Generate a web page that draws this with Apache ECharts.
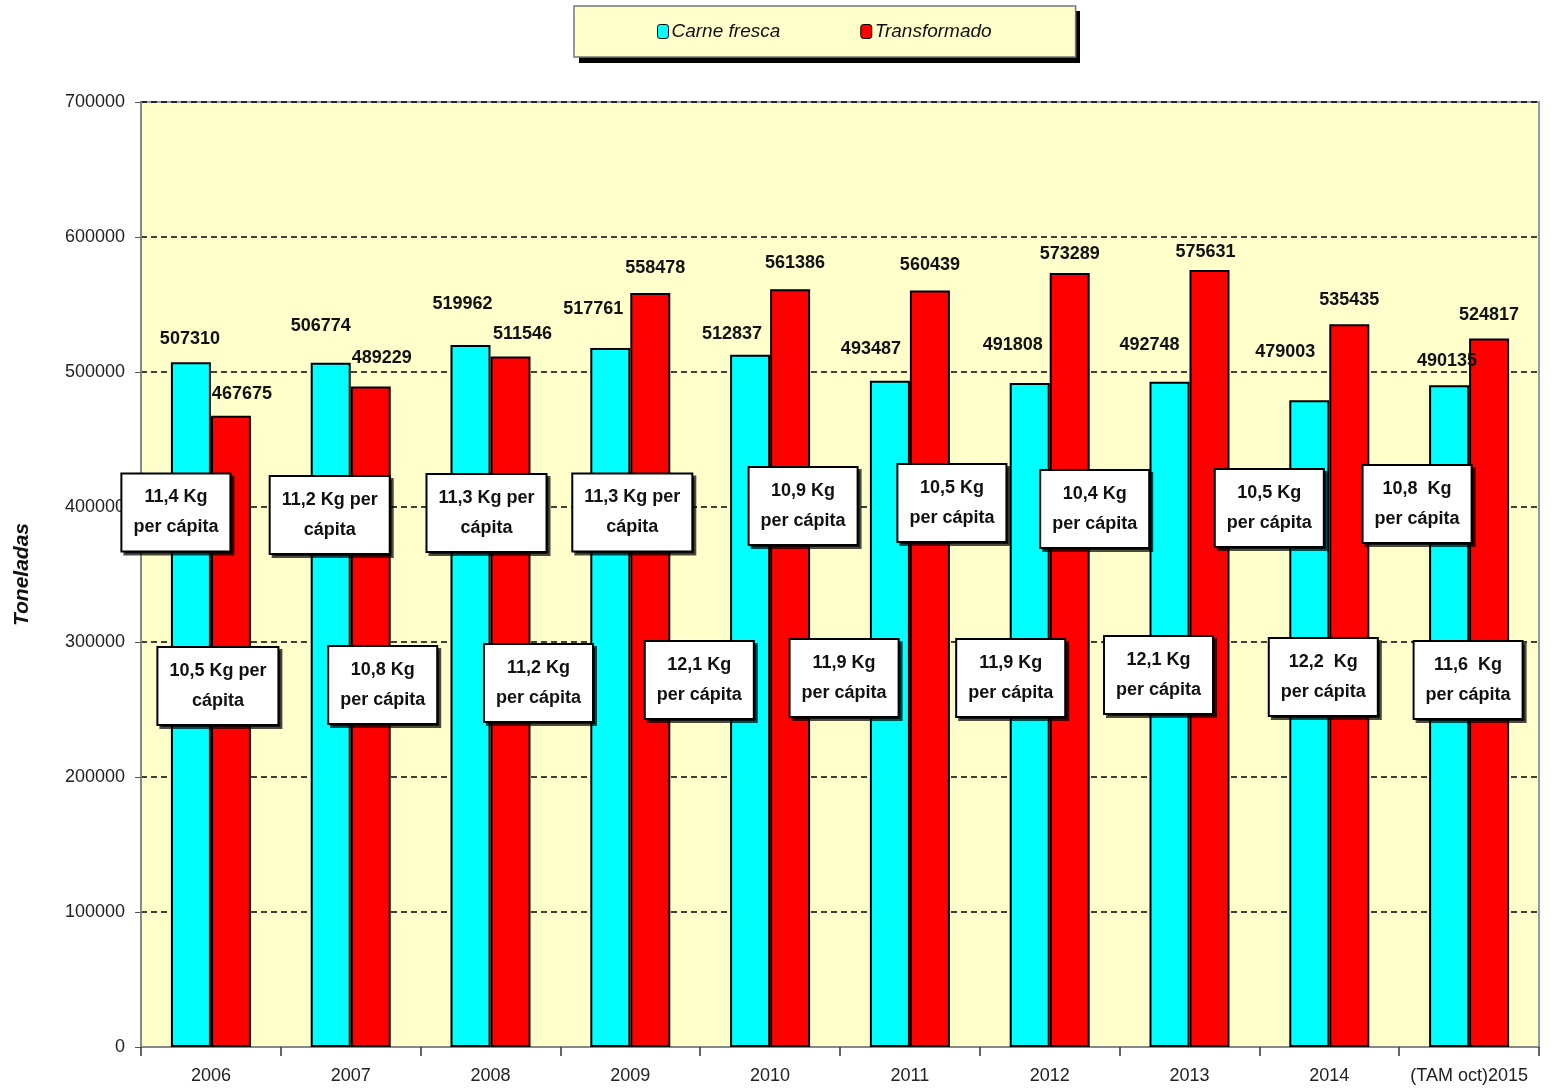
<!DOCTYPE html>
<html>
<head>
<meta charset="utf-8">
<title>Carne fresca / Transformado</title>
<script src="https://cdn.jsdelivr.net/npm/echarts@6/dist/echarts.min.js"></script>
<style>
  html, body { margin: 0; padding: 0; background: #fff; }
  #chart { width: 1554px; height: 1090px; }
</style>
</head>
<body>
<div id="chart"></div>
<script>
// data
const years = ["2006", "2007", "2008", "2009", "2010", "2011", "2012", "2013", "2014", "(TAM oct)2015"];
const carneFresca = [507310, 506774, 519962, 517761, 512837, 493487, 491808, 492748, 479003, 490135];
const transformado = [467675, 489229, 511546, 558478, 561386, 560439, 573289, 575631, 535435, 524817];
const upperBoxes = ["11,4 Kg\nper cápita", "11,2 Kg per\ncápita", "11,3 Kg per\ncápita", "11,3 Kg per\ncápita",
  "10,9 Kg\nper cápita", "10,5 Kg\nper cápita", "10,4 Kg\nper cápita", "10,5 Kg\nper cápita", "10,8  Kg\nper cápita"];
const lowerBoxes = ["10,5 Kg per\ncápita", "10,8 Kg\nper cápita", "11,2 Kg\nper cápita", "12,1 Kg\nper cápita",
  "11,9 Kg\nper cápita", "11,9 Kg\nper cápita", "12,1 Kg\nper cápita", "12,2  Kg\nper cápita", "11,6  Kg\nper cápita"];
const yTicks = [0, 100000, 200000, 300000, 400000, 500000, 600000, 700000];

// layout of the annotation boxes: [category index, x shift px, y in tonnes]
const upperPos = [[0, -15, 396000], [1, -1, 394000], [2, 16, 395500], [3, 22, 396000], [4, 53, 400700],
  [5, 62, 403000], [6, 65, 398500], [8, -40, 399300], [9, -32, 402200]];
const lowerPos = [[0, 27, 267400], [1, 52, 268100], [2, 68, 269600], [3, 89, 271800], [4, 94, 273300],
  [6, -19, 273300], [7, -11, 275500], [8, 14, 274000], [9, 19, 271800]];
// value label shifts [dx, dy]
const cyanShift = [[-1, -14], [-10, -28], [-8, -32], [-17, -30], [-18, -12], [-19, -23], [-17, -29], [-20, -28], [-24, -39], [-2, -15]];
const redShift = [[11, -13], [11, -20], [12, -13], [5, -16], [5, -17], [0, -16], [0, -10], [-4, -9], [0, -15], [0, -14]];

const FONT = "'Liberation Sans', Arial, sans-serif";

const boxLabel = {
  show: true,
  position: "inside",
  color: "#111",
  fontFamily: FONT,
  fontWeight: "bold",
  fontSize: 18,
  lineHeight: 30,
  align: "center",
  backgroundColor: "#fff",
  borderColor: "#000",
  borderWidth: 2,
  padding: [8, 11, 8, 11],
  shadowColor: "rgba(0,0,0,0.7)",
  shadowOffsetX: 3,
  shadowOffsetY: 3,
  shadowBlur: 0,
};

function boxes(texts, pos) {
  return texts.map((t, i) => ({
    coord: [years[pos[i][0]], pos[i][2]],
    value: t,
    label: Object.assign({}, boxLabel, { formatter: t, offset: [pos[i][1], 0] }),
  }));
}

function barData(values, shifts) {
  return values.map((v, i) => ({
    value: v,
    label: { offset: shifts[i] },
  }));
}

const valueLabel = {
  show: true,
  position: "top",
  distance: 0,
  color: "#111",
  fontFamily: FONT,
  fontWeight: "bold",
  fontSize: 18,
  formatter: "{c}",
};

const chart = echarts.init(document.getElementById("chart"));
chart.setOption({
  animation: false,
  // black drop shadow behind the legend frame
  graphic: [{
    type: "rect",
    z: -1,
    shape: { x: 579, y: 11, width: 501, height: 52 },
    style: { fill: "#000" },
    silent: true,
  }],
  legend: {
    left: 574,
    top: 6,
    padding: [16, 84, 16, 83],
    itemGap: 80,
    itemWidth: 11,
    itemHeight: 14,
    itemStyle: { borderColor: "#000", borderWidth: 1 },
    backgroundColor: "#FFFFCC",
    borderColor: "#777",
    borderWidth: 1.5,
    textStyle: { fontFamily: FONT, fontStyle: "italic", fontSize: 19, color: "#111", padding: [0, 0, 0, -2] },
    data: ["Carne fresca", "Transformado"],
  },
  grid: {
    left: 141,
    right: 15,
    top: 102,
    bottom: 43,
    outerBoundsMode: "none",
    show: true,
    backgroundColor: "#FFFFCC",
    borderColor: "#999",
    borderWidth: 2,
  },
  xAxis: {
    type: "category",
    data: years,
    axisLine: { lineStyle: { color: "#888", width: 2 } },
    axisTick: { show: true, length: 9, lineStyle: { color: "#333", width: 1.5 } },
    axisLabel: { interval: 0, fontFamily: FONT, fontSize: 18, color: "#222", margin: 20 },
  },
  yAxis: {
    type: "value",
    min: yTicks[0],
    max: yTicks[yTicks.length - 1],
    interval: yTicks[1] - yTicks[0],
    name: "Toneladas",
    nameLocation: "middle",
    nameGap: 108,
    nameRotate: 90,
    nameTextStyle: { fontFamily: FONT, fontStyle: "italic", fontWeight: "bold", fontSize: 21, color: "#111" },
    axisLine: { show: true, lineStyle: { color: "#888", width: 2 } },
    axisTick: { show: true, length: 6, lineStyle: { color: "#555" } },
    axisLabel: { fontFamily: FONT, fontSize: 18, color: "#222", margin: 16, formatter: (v) => String(v) },
    splitLine: { show: true, lineStyle: { color: "#000", type: [6, 4], width: 1.5 } },
  },
  series: [
    {
      name: "Carne fresca",
      type: "bar",
      barWidth: 40,
      barGap: "0%",
      itemStyle: { color: "#00FFFF", borderColor: "#000", borderWidth: 2 },
      label: valueLabel,
      data: barData(carneFresca, cyanShift),
      markPoint: {
        symbol: "rect",
        symbolSize: 0,
        silent: true,
        data: boxes(upperBoxes, upperPos).concat(boxes(lowerBoxes, lowerPos)),
      },
    },
    {
      name: "Transformado",
      type: "bar",
      barWidth: 40,
      itemStyle: { color: "#FF0000", borderColor: "#000", borderWidth: 2 },
      label: valueLabel,
      data: barData(transformado, redShift),
    },
  ],
});
</script>
</body>
</html>
